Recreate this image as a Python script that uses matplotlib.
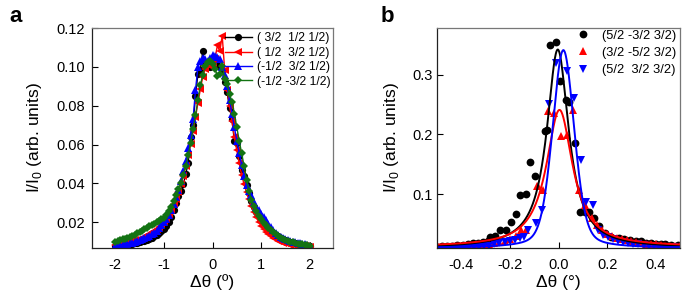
import numpy as np
import matplotlib
matplotlib.use("Agg")
import matplotlib.pyplot as plt

plt.rcParams['font.family'] = ['Liberation Sans', 'DejaVu Sans']
plt.rcParams['mathtext.fontset'] = 'custom'
plt.rcParams['mathtext.rm'] = 'Liberation Sans'

# ---------------- Panel a data ----------------
xa = [round(-2.0 + 0.05 * i, 2) for i in range(81)]

ya_black = [0.0078, 0.0080, 0.0082, 0.0083, 0.0085, 0.0087, 0.0089, 0.0091, 0.0093, 0.0096,
            0.0099, 0.0102, 0.0106, 0.0110, 0.0115, 0.0121, 0.0128, 0.0136, 0.0146, 0.0157,
            0.0168, 0.0183, 0.0200, 0.0225, 0.0262, 0.0300, 0.0335, 0.0362, 0.0395, 0.0450,
            0.0505, 0.0640, 0.0700, 0.0850, 0.0965, 0.0985, 0.1080, 0.1010, 0.1005, 0.1000,
            0.1010, 0.1020, 0.1030, 0.1000, 0.0980, 0.0920, 0.0870, 0.0790, 0.0730, 0.0620,
            0.0610, 0.0540, 0.0470, 0.0440, 0.0390, 0.0350, 0.0310, 0.0280, 0.0255, 0.0232,
            0.0212, 0.0195, 0.0180, 0.0168, 0.0156, 0.0146, 0.0137, 0.0129, 0.0122, 0.0116,
            0.0110, 0.0105, 0.0100, 0.0096, 0.0093, 0.0090, 0.0087, 0.0085, 0.0083, 0.0080,
            0.0078]

ya_red = [0.0085, 0.0087, 0.0089, 0.0091, 0.0094, 0.0097, 0.0100, 0.0103, 0.0107, 0.0111,
          0.0116, 0.0121, 0.0127, 0.0133, 0.0140, 0.0148, 0.0157, 0.0167, 0.0178, 0.0191,
          0.0205, 0.0222, 0.0242, 0.0265, 0.0292, 0.0322, 0.0356, 0.0395, 0.0440, 0.0490,
          0.0545, 0.0605, 0.0670, 0.0740, 0.0815, 0.0885, 0.0950, 0.0990, 0.1010, 0.1005,
          0.1020, 0.1040, 0.1110, 0.1080, 0.1160, 0.0985, 0.0880, 0.0800, 0.0720, 0.0640,
          0.0570, 0.0505, 0.0445, 0.0395, 0.0355, 0.0318, 0.0283, 0.0252, 0.0225, 0.0202,
          0.0182, 0.0166, 0.0152, 0.0140, 0.0130, 0.0121, 0.0113, 0.0106, 0.0100, 0.0096,
          0.0092, 0.0089, 0.0086, 0.0084, 0.0082, 0.0080, 0.0079, 0.0078, 0.0077, 0.0076,
          0.0075]

ya_blue = [0.0080, 0.0082, 0.0084, 0.0086, 0.0088, 0.0090, 0.0093, 0.0096, 0.0099, 0.0103,
           0.0107, 0.0112, 0.0117, 0.0123, 0.0130, 0.0138, 0.0147, 0.0158, 0.0170, 0.0184,
           0.0200, 0.0218, 0.0240, 0.0266, 0.0296, 0.0330, 0.0368, 0.0412, 0.0462, 0.0518,
           0.0580, 0.0650, 0.0730, 0.0880, 0.1000, 0.1030, 0.1045, 0.1040, 0.1030, 0.1045,
           0.1060, 0.1055, 0.1050, 0.1040, 0.1000, 0.0960, 0.0900, 0.0830, 0.0760, 0.0690,
           0.0620, 0.0555, 0.0495, 0.0440, 0.0392, 0.0360, 0.0340, 0.0305, 0.0280, 0.0262,
           0.0245, 0.0228, 0.0210, 0.0192, 0.0175, 0.0160, 0.0147, 0.0136, 0.0127, 0.0120,
           0.0114, 0.0109, 0.0105, 0.0101, 0.0098, 0.0095, 0.0092, 0.0089, 0.0087, 0.0085,
           0.0080]

ya_green = [0.0100, 0.0105, 0.0110, 0.0113, 0.0116, 0.0120, 0.0124, 0.0130, 0.0136, 0.0143,
            0.0150, 0.0157, 0.0164, 0.0172, 0.0180, 0.0187, 0.0194, 0.0201, 0.0208, 0.0215,
            0.0224, 0.0238, 0.0256, 0.0280, 0.0310, 0.0340, 0.0372, 0.0405, 0.0445, 0.0490,
            0.0545, 0.0610, 0.0680, 0.0750, 0.0830, 0.0905, 0.0960, 0.1005, 0.1025, 0.1028,
            0.1015, 0.0990, 0.0955, 0.0965, 0.1005, 0.0940, 0.0910, 0.0860, 0.0820, 0.0760,
            0.0690, 0.0620, 0.0555, 0.0490, 0.0420, 0.0360, 0.0315, 0.0282, 0.0256, 0.0234,
            0.0215, 0.0199, 0.0185, 0.0172, 0.0160, 0.0149, 0.0139, 0.0130, 0.0122, 0.0115,
            0.0109, 0.0104, 0.0100, 0.0097, 0.0094, 0.0091, 0.0089, 0.0087, 0.0085, 0.0083,
            0.0080]

labels_a = ["( 3/2  1/2 1/2)", "( 1/2  3/2 1/2)", "(-1/2  3/2 1/2)", "(-1/2 -3/2 1/2)"]

# ---------------- Panel b data ----------------
xb_black = [-0.500, -0.479, -0.458, -0.437, -0.416, -0.395, -0.374, -0.353, -0.332, -0.311,
            -0.290, -0.281, -0.260, -0.239, -0.218, -0.197, -0.175, -0.157, -0.133, -0.117,
            -0.096, -0.056, -0.049, -0.035, -0.011, 0.007, 0.031, 0.045, 0.066, 0.088,
            0.109, 0.126, 0.147, 0.168, 0.190, 0.218, 0.250, 0.270, 0.295, 0.320,
            0.340, 0.360, 0.380, 0.400, 0.420, 0.440, 0.465, 0.490]
yb_black = [0.012, 0.013, 0.013, 0.014, 0.015, 0.015, 0.016, 0.018, 0.019, 0.020,
            0.022, 0.028, 0.030, 0.040, 0.040, 0.053, 0.0665, 0.098, 0.100, 0.154,
            0.130, 0.205, 0.208, 0.349, 0.354, 0.289, 0.258, 0.255, 0.186, 0.071,
            0.071, 0.071, 0.060, 0.046, 0.035, 0.029, 0.027, 0.025, 0.0235, 0.022,
            0.021, 0.019, 0.018, 0.017, 0.016, 0.016, 0.015, 0.015]

xb_red = [-0.495, -0.474, -0.453, -0.432, -0.411, -0.390, -0.369, -0.348, -0.327, -0.306,
          -0.285, -0.264, -0.243, -0.222, -0.201, -0.175, -0.154, -0.133, -0.087, -0.084,
          -0.063, -0.042, -0.017, 0.011, 0.035, 0.060, 0.084, 0.109, 0.138, 0.160,
          0.180, 0.200, 0.220, 0.240, 0.260, 0.280, 0.300, 0.320, 0.340, 0.360,
          0.380, 0.400, 0.420, 0.440, 0.460, 0.480, 0.500]
yb_red = [0.010, 0.011, 0.011, 0.012, 0.012, 0.013, 0.013, 0.014, 0.015, 0.016,
          0.017, 0.018, 0.020, 0.022, 0.025, 0.030, 0.040, 0.040, 0.113, 0.113,
          0.107, 0.2385, 0.236, 0.198, 0.199, 0.241, 0.107, 0.082, 0.060, 0.048,
          0.040, 0.034, 0.030, 0.027, 0.025, 0.023, 0.021, 0.020, 0.018, 0.017,
          0.016, 0.016, 0.015, 0.014, 0.014, 0.013, 0.013]

xb_blue = [-0.495, -0.474, -0.453, -0.432, -0.411, -0.390, -0.369, -0.348, -0.327, -0.306,
           -0.285, -0.264, -0.243, -0.222, -0.201, -0.180, -0.159, -0.140, -0.126, -0.094,
           -0.067, -0.039, -0.011, 0.035, 0.063, 0.091, 0.112, 0.140, 0.161, 0.182,
           0.203, 0.224, 0.245, 0.266, 0.287, 0.308, 0.329, 0.350, 0.371, 0.392,
           0.413, 0.434, 0.455, 0.476, 0.497]
yb_blue = [0.008, 0.008, 0.009, 0.009, 0.010, 0.010, 0.011, 0.011, 0.012, 0.013,
           0.014, 0.016, 0.018, 0.020, 0.022, 0.024, 0.026, 0.029, 0.040, 0.0515,
           0.074, 0.251, 0.320, 0.306, 0.261, 0.158, 0.0877, 0.082, 0.040, 0.032,
           0.028, 0.025, 0.022, 0.020, 0.018, 0.017, 0.016, 0.015, 0.014, 0.013,
           0.012, 0.012, 0.011, 0.011, 0.010]

labels_b = ["(5/2 -3/2 3/2)", "(3/2 -5/2 3/2)", "(5/2  3/2 3/2)"]

# fitted pseudo-Voigt parameters (black, red, blue)
fit_center = [-0.003, 0.004, 0.020]
fit_hwhm = [0.055, 0.066, 0.053]
fit_amp = [0.332, 0.229, 0.331]
fit_base = [0.010, 0.012, 0.010]
fit_eta = [1.0, 1.0, 0.32]

# ---------------- Figure ----------------
fig = plt.figure(figsize=(6.91, 3.06), dpi=100)
axa = fig.add_axes([92 / 691, 58 / 306, 241 / 691, 220 / 306])
axb = fig.add_axes([437 / 691, 58 / 306, 243 / 691, 220 / 306])

green = '#137313'
cols_a = ['black', 'red', 'blue', green]
marks_a = ['o', '<', '^', 'D']
msz_a = [5.2, 5.2, 5.2, 4.2]
for ys, c, m, ms, lab in zip([ya_black, ya_red, ya_blue, ya_green], cols_a, marks_a, msz_a, labels_a):
    axa.plot(xa, ys, color=c, marker=m, markersize=ms, lw=1.0, label=lab,
             markeredgewidth=0)

axa.set_xlim(-2.48, 2.48)
axa.set_ylim(0.0068, 0.12)
axa.set_xticks([-2, -1, 0, 1, 2])
axa.set_xticklabels(['-2', '-1', '0', '1', '2'])
axa.set_yticks([0.02, 0.04, 0.06, 0.08, 0.10, 0.12])
axa.set_yticklabels(['0.02', '0.04', '0.06', '0.08', '0.10', '0.12'])
axa.set_xlabel('Δθ (º)', fontsize=12.5, labelpad=2)
axa.set_ylabel('I/I$_0$ (arb. units)', fontsize=12.5, labelpad=9)
axa.legend(loc='upper right', frameon=False, fontsize=8.7, handlelength=2.2,
           handletextpad=0.4, labelspacing=0.2, borderaxespad=0.15,
           bbox_to_anchor=(1.016, 1.01))

cols_b = ['black', 'red', 'blue']
marks_b = ['o', '^', 'v']
xs_fit = np.linspace(-0.5, 0.5, 801)
for xs, ys, c, m, lab in zip([xb_black, xb_red, xb_blue], [yb_black, yb_red, yb_blue],
                             cols_b, marks_b, labels_b):
    axb.plot(xs, ys, linestyle='none', marker=m, color=c, markersize=5.6,
             markeredgewidth=0, label=lab)
for i, c in enumerate(cols_b):
    r = (xs_fit - fit_center[i]) / fit_hwhm[i]
    prof = fit_eta[i] / (1 + r ** 2) + (1 - fit_eta[i]) * np.exp(-np.log(2) * r ** 2)
    axb.plot(xs_fit, fit_base[i] + fit_amp[i] * prof, color=c, lw=1.4)

axb.set_xlim(-0.5, 0.5)
axb.set_ylim(0.01, 0.378)
axb.set_xticks([-0.4, -0.2, 0.0, 0.2, 0.4])
axb.set_xticklabels(['-0.4', '-0.2', '0.0', '0.2', '0.4'])
axb.set_yticks([0.1, 0.2, 0.3])
axb.set_yticklabels(['0.1', '0.2', '0.3'])
axb.set_xlabel('Δθ (°)', fontsize=12.5, labelpad=2)
axb.set_ylabel('I/I$_0$ (arb. units)', fontsize=12.5, labelpad=8)
axb.legend(loc='upper right', frameon=False, fontsize=9.3, handlelength=1.0,
           handletextpad=1.0, labelspacing=0.4, borderaxespad=0.2,
           bbox_to_anchor=(1.017, 1.028))

for ax in (axa, axb):
    ax.tick_params(direction='in', length=4.5, width=0.8, labelsize=10.5,
                   colors='black')
    ax.tick_params(axis='x', pad=7)
    ax.spines['left'].set_color('#222222')
    ax.spines['bottom'].set_color('#222222')
    ax.spines['top'].set_color('#777777')
    ax.spines['right'].set_color('#777777')
    for s in ax.spines.values():
        s.set_linewidth(0.9)
axa.tick_params(axis='y', pad=5)
axb.tick_params(axis='y', pad=3)

fig.text(9 / 691, 1 - 22 / 306, 'a', fontsize=16, fontweight='bold')
fig.text(381 / 691, 1 - 22 / 306, 'b', fontsize=16, fontweight='bold')

fig.savefig('out.png', dpi=100)
